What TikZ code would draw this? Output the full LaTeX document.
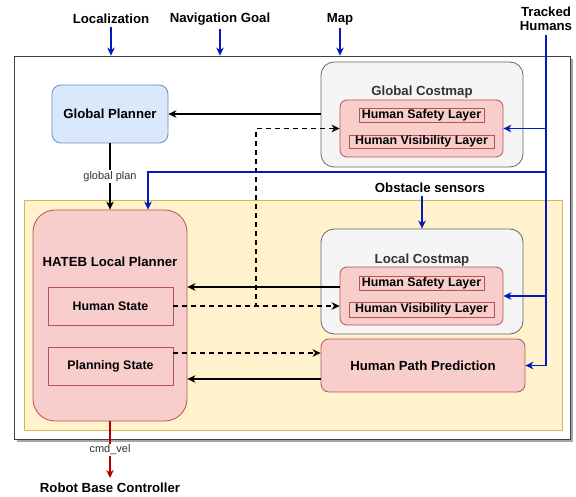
\documentclass[tikz,border=0pt]{standalone}
\usepackage{fontspec}
\setmainfont{Liberation Sans}
\usetikzlibrary{arrows.meta}

\definecolor{bluefill}{HTML}{DAE8FC}
\definecolor{bluedraw}{HTML}{6C8EBF}
\definecolor{redfill}{HTML}{F8CECC}
\definecolor{reddraw}{HTML}{B85450}
\definecolor{greyfill}{HTML}{F5F5F5}
\definecolor{greydraw}{HTML}{666666}
\definecolor{greytext}{HTML}{333333}
\definecolor{yelfill}{HTML}{FFF2CC}
\definecolor{yeldraw}{HTML}{D6B656}
\definecolor{sigblue}{HTML}{001DBC}
\definecolor{sigred}{HTML}{B20000}

\tikzset{
  bigtxt/.style={font=\bfseries\fontsize{13.2}{14.5}\selectfont},
  smalltxt/.style={font=\bfseries\fontsize{12.4}{14}\selectfont},
  plaintxt/.style={font=\fontsize{11}{13}\selectfont, text=greytext, fill=white, inner sep=1pt},
  box/.style={draw, line width=0.8pt, inner sep=0pt},
  redbox/.style={box, draw=reddraw, fill=redfill},
  arr/.style={line width=1.6pt, -{Stealth[length=8pt,width=7.5pt,inset=2.5pt]}},
  darr/.style={line width=1.4pt, dash pattern=on 5pt off 4pt,
    -{Stealth[open,length=8pt,width=7.5pt,inset=2.5pt]}},
}

\begin{document}
\begin{tikzpicture}[x=1pt,y=-1pt]
\useasboundingbox (0,0) rectangle (576,497);
%\draw [help lines, step=10] (0,0) grid (576,497);

% outer frame and local area
\fill [black!35] (17,59) rectangle (573,442);
\node [box, draw=black!75, fill=white, minimum width=556pt, minimum height=383pt] (frame) at (292,247.5) {};
\node [box, draw=yeldraw, fill=yelfill, minimum width=538pt, minimum height=230pt] (area) at (293,315) {};

% inputs
\node [bigtxt] (loc) at (111,19) {Localization};
\node [bigtxt] (goal) at (220,19) {Navigation Goal};
\node [bigtxt] (map) at (340,19) {Map};
\node [bigtxt, align=center] (th) at (546,19) {Tracked\\Humans};
\node [bigtxt] (obs) at (430,188) {Obstacle sensors};
\node [bigtxt] (rbc) at (110,488) {Robot Base Controller};

% global planner
\node [box, draw=bluedraw, fill=bluefill, rounded corners=9pt, minimum width=116pt, minimum height=58pt, bigtxt] (gp) at (110,114) {Global Planner};

% global costmap
\node [box, draw=greydraw, fill=greyfill, rounded corners=13pt, minimum width=202pt, minimum height=105pt] (gc) at (422,114.5) {};
\node [bigtxt, text=greytext] (gctitle) at (422,92) {Global Costmap};
\node [redbox, rounded corners=7pt, minimum width=163pt, minimum height=57pt] (gcin) at (421.5,128.5) {};
\node [redbox, smalltxt, minimum width=125pt, minimum height=14pt] (gcsafe) at (421.5,115) {Human Safety Layer};
\node [redbox, smalltxt, minimum width=145pt, minimum height=13pt] (gcvis) at (421.5,141.5) {Human Visibility Layer};

% local costmap
\node [box, draw=greydraw, fill=greyfill, rounded corners=13pt, minimum width=202pt, minimum height=105pt] (lc) at (422,281.5) {};
\node [bigtxt, text=greytext] (lctitle) at (422,260) {Local Costmap};
\node [redbox, rounded corners=7pt, minimum width=163pt, minimum height=58pt] (lcin) at (421.5,296) {};
\node [redbox, smalltxt, minimum width=125pt, minimum height=14pt] (lcsafe) at (421.5,283) {Human Safety Layer};
\node [redbox, smalltxt, minimum width=145pt, minimum height=15pt] (lcvis) at (421.5,309.5) {Human Visibility Layer};

% human path prediction
\node [redbox, bigtxt, rounded corners=8pt, minimum width=204pt, minimum height=53pt] (hpp) at (423,365.5) {Human Path Prediction};

% local planner
\node [redbox, rounded corners=22pt, minimum width=154pt, minimum height=211pt] (hateb) at (110,315.5) {};
\node [bigtxt] (hatebtitle) at (110,262) {HATEB Local Planner};
\node [redbox, smalltxt, minimum width=125pt, minimum height=38pt] (hs) at (110.5,306) {Human State};
\node [redbox, smalltxt, minimum width=125pt, minimum height=38pt] (ps) at (110.5,366) {Planning State};

% input arrows
\draw [arr, sigblue] (loc.south) -- (loc.south |- frame.north);
\draw [arr, sigblue] (goal.south) -- (goal.south |- frame.north);
\draw [arr, sigblue] (map.south) -- (map.south |- frame.north);
\draw [arr, sigblue] (lc.north |- obs.south) -- (lc.north);

% tracked humans
\coordinate (hbend) at (148,172);
\draw [arr, sigblue] (th.south) |- (hpp.east);
\draw [arr, sigblue] (th.south |- gcin.east) -- (gcin.east);
\draw [arr, sigblue] (th.south |- lcin.east) -- (lcin.east);
\draw [arr, sigblue] (th.south |- hbend) -- (hbend) -- (hbend |- hateb.north);

% planner links
\draw [arr] (gc.west |- gp.east) -- (gp.east);
\draw [arr] (gp.south) -- node [plaintxt] {global plan} (gp.south |- hateb.north);
\draw [arr] (lcin.west |- 0,287) -- (hateb.east |- 0,287);
\draw [arr] (hpp.west |- 0,379) -- (hateb.east |- 0,379);
\draw [darr] (hs.east) -- (256,306) |- (gcin.west);
\draw [darr] (hs.east) -- (hs.east -| lcin.west);
\draw [darr] (ps.east |- 0,353) -- (hpp.west |- 0,353);

% output
\draw [arr, sigred] (hateb.south) -- node [plaintxt] {cmd\_vel} (hateb.south |- 0,478);

\end{tikzpicture}
\end{document}
